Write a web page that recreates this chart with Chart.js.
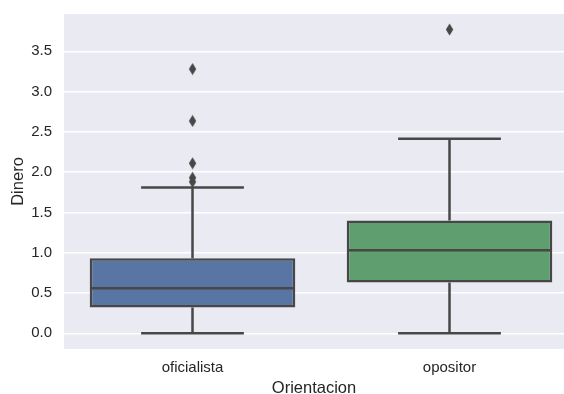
<!DOCTYPE html>
<html>
<head>
<meta charset="utf-8">
<script src="https://cdn.jsdelivr.net/npm/chart.js@4/dist/chart.umd.min.js"></script>
<style>
  html, body { margin: 0; padding: 0; background: #ffffff; overflow: hidden; }
  #wrap { width: 564px; height: 394px; }
</style>
</head>
<body>
<div id="wrap"><canvas id="c" width="564" height="394"></canvas></div>
<script>
// Box plot summary of "Dinero" per "Orientacion"
const categories   = ['oficialista', 'opositor'];
const whiskerLow   = [0.0, 0.0];
const quartile1    = [0.32, 0.63];
const medians      = [0.56, 1.03];
const quartile3    = [0.93, 1.40];
const whiskerHigh  = [1.81, 2.415];
const outliers     = [[3.28, 2.635, 2.11, 1.93, 1.88], [3.77]];
const yTickValues  = [0.0, 0.5, 1.0, 1.5, 2.0, 2.5, 3.0, 3.5];

const boxColors = ['#5975a4', '#5f9e6e'];
const lineColor = '#474747';
const BOX_HALF = 0.4, CAP_HALF = 0.2, LW = 2.5;

// thin diamond marker for the fliers
function diamond() {
  const cv = document.createElement('canvas');
  cv.width = 9; cv.height = 13;
  const g = cv.getContext('2d');
  g.fillStyle = lineColor;
  g.beginPath();
  g.moveTo(4.5, 0.5); g.lineTo(8.2, 6.5); g.lineTo(4.5, 12.5); g.lineTo(0.8, 6.5);
  g.closePath(); g.fill();
  return cv;
}
const marker = diamond();

const datasets = [];
// boxes as floating bars
datasets.push({
  type: 'bar',
  data: categories.map((c, i) => ({ x: i, y: [quartile1[i], quartile3[i]] })),
  backgroundColor: boxColors,
  borderColor: lineColor,
  borderWidth: LW,
  borderSkipped: false,
  barPercentage: 2 * BOX_HALF,
  categoryPercentage: 1.0,
  order: 3
});
function seg(points) {
  datasets.push({
    type: 'line', data: points, borderColor: lineColor, borderWidth: LW,
    pointRadius: 0, fill: false, tension: 0, order: 1, borderCapStyle: 'butt'
  });
}
categories.forEach((c, i) => {
  seg([{ x: i - BOX_HALF + 0.005, y: medians[i] }, { x: i + BOX_HALF - 0.005, y: medians[i] }]);
  seg([{ x: i, y: quartile3[i] }, { x: i, y: whiskerHigh[i] }]);
  seg([{ x: i, y: quartile1[i] }, { x: i, y: whiskerLow[i] }]);
  seg([{ x: i - CAP_HALF, y: whiskerHigh[i] }, { x: i + CAP_HALF, y: whiskerHigh[i] }]);
  seg([{ x: i - CAP_HALF, y: whiskerLow[i] }, { x: i + CAP_HALF, y: whiskerLow[i] }]);
});
datasets.push({
  type: 'scatter',
  data: outliers.flatMap((vals, i) => vals.map(v => ({ x: i, y: v }))),
  pointStyle: marker,
  pointRadius: 5,
  order: 0
});

const plotBg = {
  id: 'plotBg',
  beforeDraw(chart) {
    const a = chart.chartArea, ctx = chart.ctx;
    ctx.save();
    ctx.fillStyle = '#eaeaf2';
    ctx.fillRect(a.left, a.top, a.right - a.left, a.bottom - a.top);
    ctx.restore();
  }
};

function noEdgePadding(s) {
  s.paddingTop = 0; s.paddingBottom = 0; s.paddingLeft = 0; s.paddingRight = 0;
}

new Chart(document.getElementById('c'), {
  data: { datasets },
  options: {
    responsive: false,
    animation: false,
    layout: { autoPadding: false, padding: { top: 14, right: 0, left: 0, bottom: 0 } },
    plugins: { legend: { display: false }, tooltip: { enabled: false } },
    scales: {
      x: {
        type: 'linear',
        min: -0.5, max: 1.4455,
        offset: false,
        grid: { display: false, offset: false },
        border: { display: false },
        afterBuildTicks: s => { s.ticks = categories.map((c, i) => ({ value: i })); },
        afterFit: s => { s.height = 45; noEdgePadding(s); },
        ticks: {
          callback: v => categories[v],
          color: '#262626',
          font: { family: 'Liberation Sans, Arial, sans-serif', size: 15 },
          padding: 2,
          maxRotation: 0
        },
        title: {
          display: true, text: 'Orientacion', color: '#262626',
          font: { family: 'Liberation Sans, Arial, sans-serif', size: 16.5, lineHeight: 1 },
          padding: { top: 0, bottom: -3 }
        }
      },
      y: {
        type: 'linear',
        min: -0.195, max: 3.963,
        grid: { color: '#ffffff', lineWidth: 1.5, drawTicks: false },
        border: { display: false },
        afterBuildTicks: s => { s.ticks = yTickValues.map(v => ({ value: v })); },
        afterFit: s => { s.width = 64; noEdgePadding(s); },
        ticks: {
          callback: v => v.toFixed(1),
          color: '#262626',
          font: { family: 'Liberation Sans, Arial, sans-serif', size: 15 },
          padding: 12
        },
        title: {
          display: true, text: 'Dinero', color: '#262626',
          font: { family: 'Liberation Sans, Arial, sans-serif', size: 16.5 },
          padding: { top: 9, bottom: 0 }
        }
      }
    }
  },
  plugins: [plotBg]
});
</script>
</body>
</html>
